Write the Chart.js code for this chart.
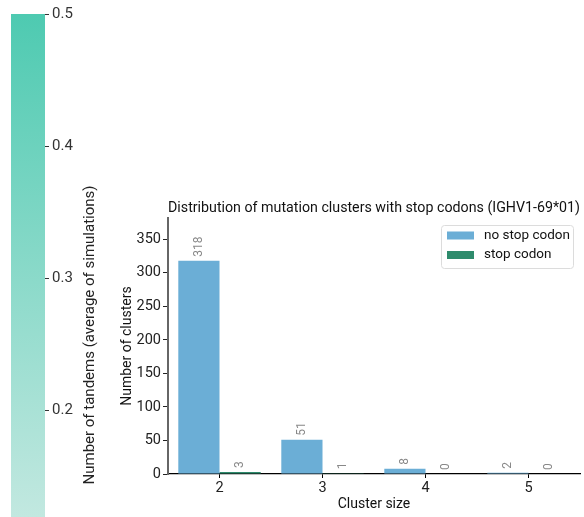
<!DOCTYPE html>
<html>
<head>
<meta charset="utf-8">
<script src="https://cdn.jsdelivr.net/npm/chart.js@4/dist/chart.umd.min.js"></script>
<style>
  html, body { margin: 0; padding: 0; background: #fff; }
  #wrap { position: relative; width: 584px; height: 517px; overflow: hidden; }
  #cbar { position: absolute; left: 0; top: 0; }
  #bars { position: absolute; left: 100px; top: 0; }
</style>
</head>
<body>
<div id="wrap">
  <canvas id="cbar" width="120" height="517"></canvas>
  <canvas id="bars" width="484" height="517"></canvas>
</div>
<script>
'use strict';

// data
const categories = ['2', '3', '4', '5'];
const noStopCodon = [318, 51, 8, 2];
const stopCodon = [3, 1, 0, 0];
const seriesNames = ['no stop codon', 'stop codon'];

// colour bar range + ticks
const cbarRange = [0.119, 0.5];
const cbarTicks = [0.2, 0.3, 0.4, 0.5];

const FONT = 'Roboto';
const blue = 'rgb(107, 174, 214)';
const green = 'rgb(46, 139, 108)';

Chart.defaults.font.family = FONT;
Chart.defaults.animation = false;

// colour bar: one floating bar filled with a gradient
const cbarLabel = {
  id: 'cbarLabel',
  afterDraw(chart) {
    const ctx = chart.ctx;
    ctx.save();
    ctx.translate(90, 335);
    ctx.rotate(-Math.PI / 2);
    ctx.font = '15px ' + FONT;
    ctx.fillStyle = '#222';
    ctx.textAlign = 'center';
    ctx.textBaseline = 'middle';
    ctx.fillText('Number of tandems (average of simulations)', 0, 0);
    ctx.restore();
  }
};

new Chart(document.getElementById('cbar'), {
  type: 'bar',
  data: {
    labels: [''],
    datasets: [{
      data: [cbarRange],
      borderWidth: 0,
      barPercentage: 1,
      categoryPercentage: 1,
      backgroundColor(c) {
        const area = c.chart.chartArea;
        if (!area) return '#4ecab1';
        const g = c.chart.ctx.createLinearGradient(0, area.top, 0, area.bottom);
        g.addColorStop(0, '#4ecab1');
        g.addColorStop(1, '#c2e8e0');
        return g;
      }
    }]
  },
  options: {
    responsive: false,
    layout: { padding: { left: 11, top: 14, bottom: 0, right: 0 } },
    plugins: { legend: { display: false }, tooltip: { enabled: false } },
    scales: {
      x: { display: false },
      y: {
        position: 'right',
        min: cbarRange[0],
        max: cbarRange[1],
        afterBuildTicks(scale) {
          scale.ticks = cbarTicks.map(v => ({ value: v }));
        },
        afterFit(scale) {
          scale.width = 75;
          scale.paddingTop = 0;
          scale.paddingBottom = 0;
        },
        border: { display: false },
        grid: { drawOnChartArea: false, drawTicks: true, tickLength: 4, color: '#333' },
        ticks: { font: { size: 15 }, color: '#333', padding: 3 }
      }
    }
  },
  plugins: [cbarLabel]
});

// rotated value labels above each bar
const barValues = {
  id: 'barValues',
  afterDatasetsDraw(chart) {
    const ctx = chart.ctx;
    ctx.save();
    ctx.font = '12px ' + FONT;
    ctx.fillStyle = '#888';
    ctx.textAlign = 'left';
    ctx.textBaseline = 'middle';
    chart.data.datasets.forEach((ds, i) => {
      chart.getDatasetMeta(i).data.forEach((el, j) => {
        ctx.save();
        ctx.translate(el.x, el.y - 4);
        ctx.rotate(-Math.PI / 2);
        ctx.fillText(String(ds.data[j]), 0, 0);
        ctx.restore();
      });
    });
    ctx.restore();
  }
};

// boxed legend in the upper right of the plot
const boxLegend = {
  id: 'boxLegend',
  afterDraw(chart) {
    const ctx = chart.ctx;
    const x = 341, y = 225, w = 132, h = 43;
    ctx.save();
    ctx.beginPath();
    ctx.roundRect(x + 0.5, y + 0.5, w, h, 3);
    ctx.fillStyle = 'rgba(255,255,255,0.85)';
    ctx.fill();
    ctx.strokeStyle = '#dcdcdc';
    ctx.lineWidth = 1;
    ctx.stroke();
    ctx.font = '13.5px ' + FONT;
    ctx.textBaseline = 'middle';
    chart.data.datasets.forEach((ds, i) => {
      const cy = y + 10.5 + i * 19.5;
      ctx.fillStyle = ds.backgroundColor;
      ctx.fillRect(x + 6, cy - 4, 27, 8);
      ctx.fillStyle = '#111';
      ctx.fillText(ds.label, x + 43, cy);
    });
    ctx.restore();
  }
};

new Chart(document.getElementById('bars'), {
  type: 'bar',
  data: {
    labels: categories,
    datasets: [
      { label: seriesNames[0], data: noStopCodon, backgroundColor: blue, borderWidth: 0, barPercentage: 1, categoryPercentage: 0.8 },
      { label: seriesNames[1], data: stopCodon, backgroundColor: green, borderWidth: 0, barPercentage: 1, categoryPercentage: 0.8 }
    ]
  },
  options: {
    responsive: false,
    layout: { padding: { top: 200, right: 4, left: 0, bottom: 0 } },
    plugins: {
      legend: { display: false },
      tooltip: { enabled: false },
      title: {
        display: true,
        text: 'Distribution of mutation clusters with stop codons (IGHV1-69*01)',
        fullSize: false,
        color: '#111',
        font: { size: 14.3, weight: 'normal' },
        padding: { top: 0, bottom: 1 }
      }
    },
    scales: {
      x: {
        afterFit(scale) { scale.height = 43; },
        border: { color: '#000', width: 1.3 },
        grid: { drawOnChartArea: false, offset: false, tickLength: 4, color: '#000' },
        ticks: { font: { size: 14.5 }, color: '#222', padding: 2 },
        title: { display: true, text: 'Cluster size', color: '#111', font: { size: 14 }, padding: { top: 0, bottom: 4 } }
      },
      y: {
        min: 0,
        max: 381.6,
        afterBuildTicks(scale) {
          scale.ticks = scale.ticks.filter(t => t.value % 50 === 0);
        },
        afterFit(scale) { scale.width = 68; },
        border: { color: '#666', width: 2 },
        grid: { drawOnChartArea: false, tickLength: 5, color: '#222' },
        ticks: { stepSize: 50, font: { size: 14.5 }, color: '#222', padding: 2 },
        title: { display: true, text: 'Number of clusters', color: '#111', font: { size: 14 }, padding: { top: 19, bottom: 0 } }
      }
    }
  },
  plugins: [barValues, boxLegend]
});
</script>
</body>
</html>
